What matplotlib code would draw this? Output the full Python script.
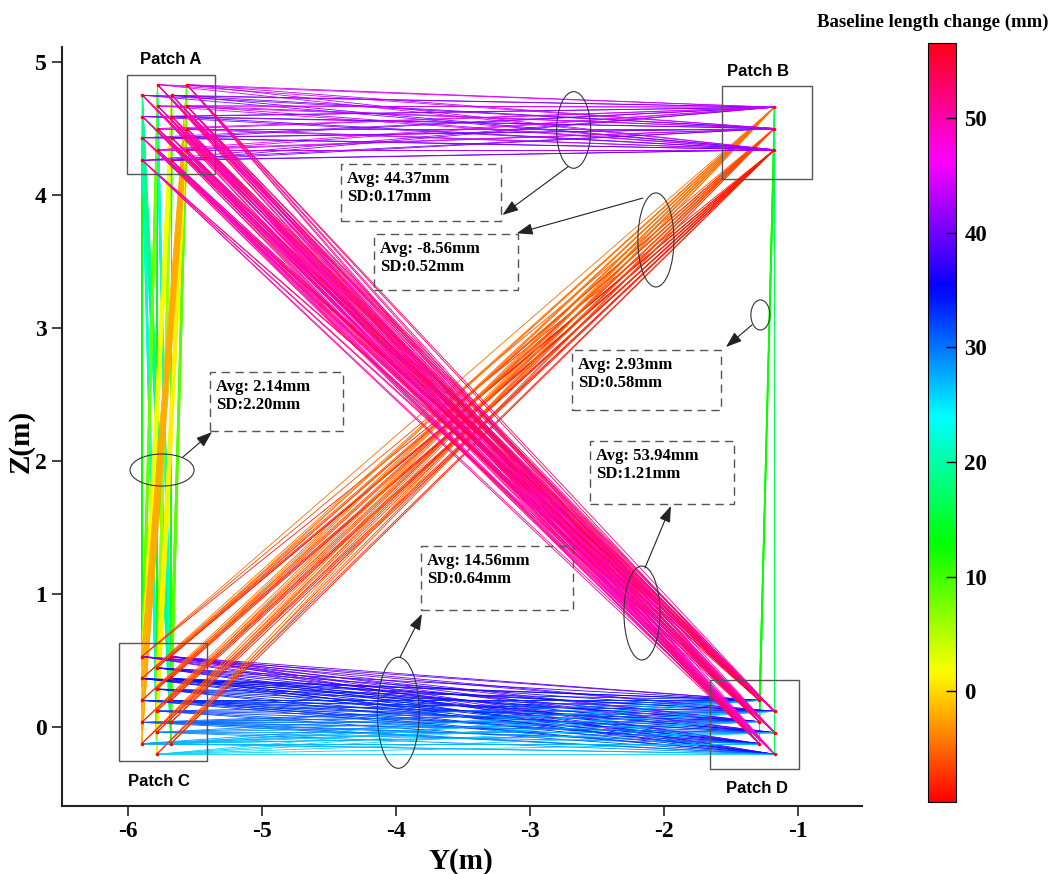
import matplotlib
matplotlib.use("Agg")
import matplotlib.pyplot as plt
from matplotlib.collections import LineCollection
from matplotlib.patches import Ellipse, Rectangle
from matplotlib.colors import Normalize
from matplotlib.cm import ScalarMappable

SERIF = "Liberation Serif"
SANS = "Liberation Sans"
plt.rcParams["axes.unicode_minus"] = False

# target positions (Y, Z) in metres, one list of Z values per column
A_COLS_Y = [-5.893, -5.780, -5.674, -5.562]
A_COLS_Z = [[4.75, 4.59, 4.43, 4.26],
            [4.83, 4.67, 4.50, 4.34],
            [4.75, 4.59, 4.43, 4.26],
            [4.83, 4.67, 4.50, 4.34]]
B_COLS_Y = [-1.176]
B_COLS_Z = [[4.66, 4.50, 4.34]]
C_COLS_Y = [-5.898, -5.786, -5.680]
C_COLS_Z = [[0.53, 0.365, 0.20, 0.035, -0.125],
            [0.445, 0.285, 0.12, -0.04, -0.205],
            [0.53, 0.365, 0.20, 0.035, -0.125]]
D_COLS_Y = [-1.289, -1.174]
D_COLS_Z = [[0.20, 0.04, -0.125],
            [0.118, -0.043, -0.205]]

AB_BY_ACOL = [41.5, 45.0, 40.0, 43.5]
AB_BY_BROW = [0.5, 0.0, -0.5]
AC_TABLE = [[13.0, 22.0, 19.0],
            [8.0, 14.0, 22.0],
            [2.0, 6.0, 12.0],
            [-2.0, 1.0, 9.0]]
AD_BY_DPT = [[54.0, 53.0, 52.0],
             [50.5, 49.5, 48.5]]
AD_BY_ACOL = [0.0, 1.0, -1.0, 0.5]
CB_BY_BROW = [-4.5, -6.5, -8.5]
CD_BY_CROW = [[40.0, 35.0, 33.0, 31.0, 28.0],
              [37.0, 34.0, 32.0, 29.0, 26.0],
              [39.0, 35.0, 33.0, 30.0, 27.0]]
DB_BY_DCOL = [12.5, 16.5]

CB_MIN, CB_MAX = -9.65, 56.5
CB_TICKS = [0, 10, 20, 30, 40, 50]

STATS = [("Avg: 44.37mm", "SD:0.17mm"),
         ("Avg: -8.56mm", "SD:0.52mm"),
         ("Avg: 2.93mm", "SD:0.58mm"),
         ("Avg: 2.14mm", "SD:2.20mm"),
         ("Avg: 53.94mm", "SD:1.21mm"),
         ("Avg: 14.56mm", "SD:0.64mm")]


def points(cols_y, cols_z):
    out = []
    for ci, (y, zs) in enumerate(zip(cols_y, cols_z)):
        for ri, z in enumerate(zs):
            out.append((ci, ri, y, z))
    return out


A = points(A_COLS_Y, A_COLS_Z)
B = points(B_COLS_Y, B_COLS_Z)
C = points(C_COLS_Y, C_COLS_Z)
D = points(D_COLS_Y, D_COLS_Z)

segs, vals = [], []


def link(src, dst, value_fn):
    for p in src:
        for q in dst:
            segs.append([(p[2], p[3]), (q[2], q[3])])
            vals.append(value_fn(p, q))


link(A, C, lambda p, q: AC_TABLE[p[0]][q[0]])
link(D, B, lambda p, q: DB_BY_DCOL[p[0]])
link(C, D, lambda p, q: CD_BY_CROW[p[0]][p[1]])
link(C, B, lambda p, q: CB_BY_BROW[q[1]])
link(A, B, lambda p, q: AB_BY_ACOL[p[0]] + AB_BY_BROW[q[1]])
link(A, D, lambda p, q: AD_BY_DPT[q[0]][q[1]] + AD_BY_ACOL[p[0]])

cmap = plt.get_cmap("hsv")
norm = Normalize(CB_MIN, CB_MAX)

fig = plt.figure(figsize=(10.54, 8.74), dpi=100)
ax = fig.add_axes([0.0588, 0.0778, 0.759, 0.868])

lc = LineCollection(segs, colors=cmap(norm(vals)), linewidths=0.6)
ax.add_collection(lc)

allpts = A + B + C + D
ax.plot([p[2] for p in allpts], [p[3] for p in allpts], "o", color="red",
        ms=2.6, mec="none", zorder=3)

# patch frames and names
frames = {"A": (-6.01, 4.16, 0.66, 0.74), "B": (-1.565, 4.12, 0.672, 0.70),
          "C": (-6.07, -0.253, 0.66, 0.883), "D": (-1.655, -0.316, 0.665, 0.669)}
label_pos = {"A": (-5.68, 5.02), "B": (-1.30, 4.925),
             "C": (-5.766, -0.411), "D": (-1.308, -0.466)}
for k, (x0, y0, w, h) in frames.items():
    ax.add_patch(Rectangle((x0, y0), w, h, fill=False, ec="#555555", lw=1.0, zorder=4))
    ax.text(*label_pos[k], "Patch " + k, ha="center", va="center",
            fontsize=12, fontweight="bold", family=SANS)

# ellipses marking each group of baselines
ellipses = [(-2.674, 4.489, 0.254, 0.576), (-2.06, 3.662, 0.269, 0.707),
            (-1.28, 3.098, 0.142, 0.226), (-5.746, 1.932, 0.478, 0.241),
            (-2.164, 0.857, 0.269, 0.707), (-3.983, 0.107, 0.313, 0.835)]
for cx, cy, w, h in ellipses:
    ax.add_patch(Ellipse((cx, cy), w, h, fill=False, ec="#333333", lw=0.8, zorder=5))

# dashed stat boxes: (left, bottom, right, top)
boxes = [(-4.410, 3.805, -3.218, 4.233), (-4.164, 3.286, -3.092, 3.707),
         (-2.687, 2.383, -1.575, 2.835), (-5.388, 2.226, -4.396, 2.669),
         (-2.552, 1.677, -1.478, 2.150), (-3.813, 0.880, -2.681, 1.361)]
for (x0, y0, x1, y1), (avg, sd) in zip(boxes, STATS):
    ax.add_patch(Rectangle((x0, y0), x1 - x0, y1 - y0, fill=False, ec="#555555",
                           lw=1.0, ls=(0, (6, 4)), zorder=5))
    ax.text(x0 + 0.045, y1 - 0.05, avg + "\n" + sd, ha="left", va="top",
            fontsize=12, fontweight="bold", family=SERIF, linespacing=1.2, zorder=6)

# arrows from ellipse to box: (tail, head)
arrows = [((-2.713, 4.215), (-3.205, 3.85)), ((-2.157, 3.977), (-3.099, 3.712)),
          ((-1.343, 3.023), (-1.537, 2.857)), ((-5.590, 2.03), (-5.373, 2.218)),
          ((-2.142, 1.195), (-1.948, 1.662)), ((-3.970, 0.524), (-3.806, 0.850))]
for tail, head in arrows:
    ax.annotate("", xy=head, xytext=tail,
                arrowprops=dict(arrowstyle="-|>,head_length=0.7,head_width=0.25",
                                color="#222222", lw=0.8, shrinkA=0, shrinkB=0,
                                mutation_scale=14), zorder=6)

ax.set_xlim(-6.493, -0.522)
ax.set_ylim(-0.594, 5.11)
ax.set_xticks([-6, -5, -4, -3, -2, -1])
ax.set_yticks([0, 1, 2, 3, 4, 5])
for s in ("top", "right"):
    ax.spines[s].set_visible(False)
for s in ("left", "bottom"):
    ax.spines[s].set_linewidth(1.5)
    ax.spines[s].set_color("#222222")
ax.tick_params(direction="out", length=7, width=1.2, color="#222222", pad=4)
for lab in ax.get_xticklabels() + ax.get_yticklabels():
    lab.set_fontfamily(SERIF)
    lab.set_fontweight("bold")
    lab.set_fontsize(17)
ax.set_xlabel("Y(m)", fontsize=21, fontweight="bold", family=SERIF)
ax.set_ylabel("Z(m)", fontsize=21, fontweight="bold", family=SERIF)
ax.xaxis.set_label_coords(0.499, -0.055)
ax.yaxis.set_label_coords(-0.034, 0.48)

cax = fig.add_axes([0.8805, 0.0824, 0.0266, 0.868])
cb = fig.colorbar(ScalarMappable(norm=norm, cmap=cmap), cax=cax, ticks=CB_TICKS)
cb.outline.set_linewidth(0.8)
cax.tick_params(direction="in", length=7, width=1.0, pad=6)
for lab in cax.get_yticklabels():
    lab.set_fontfamily(SERIF)
    lab.set_fontweight("bold")
    lab.set_fontsize(16.5)
fig.text(0.8845, 0.975, "Baseline length change (mm)", ha="center", va="center",
         fontsize=13.5, fontweight="bold", family=SERIF)

fig.savefig("out.png", dpi=100)
